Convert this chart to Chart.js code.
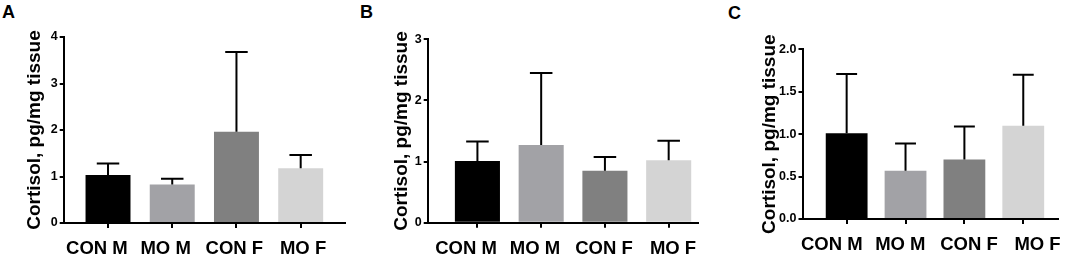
<!DOCTYPE html>
<html>
<head>
<meta charset="utf-8">
<script src="https://cdn.jsdelivr.net/npm/chart.js@4/dist/chart.umd.min.js"></script>
<style>
  html, body { margin: 0; padding: 0; background: #fff; }
  #wrap { position: relative; width: 1065px; height: 257px; overflow: hidden; background: #fff; }
  canvas { position: absolute; top: 0; }
  .lbl { position: absolute; font: bold 18px "Liberation Sans", Arial, sans-serif; color: #000; line-height: 1; }
</style>
</head>
<body>
<div id="wrap">
  <div class="lbl" style="left:2px;top:3px;">A</div>
  <div class="lbl" style="left:360px;top:3px;">B</div>
  <div class="lbl" style="left:728px;top:4px;">C</div>
  <canvas id="cA" width="355" height="257" style="left:0px"></canvas>
  <canvas id="cB" width="355" height="257" style="left:355px"></canvas>
  <canvas id="cC" width="355" height="257" style="left:710px"></canvas>
</div>
<script>
// ---- Data ----
const categories = ['CON M', 'MO M', 'CON F', 'MO F'];
const barColors = ['#000000', '#a2a2a6', '#808080', '#d4d4d4'];

const meanA = [1.03, 0.83, 1.96, 1.18];
const errTopA = [1.28, 0.95, 3.68, 1.46];

const meanB = [1.01, 1.27, 0.85, 1.02];
const errTopB = [1.33, 2.45, 1.075, 1.34];

const meanC = [1.01, 0.57, 0.70, 1.10];
const errTopC = [1.71, 0.89, 1.09, 1.70];

const yTicksA = [0, 1, 2, 3, 4];
const yTicksB = [0, 1, 2, 3];
const yTicksC = [0, 0.5, 1.0, 1.5, 2.0];

const FONT = '"Liberation Sans", Arial, Helvetica, sans-serif';

const errorBarPlugin = {
  id: 'errorBars',
  afterDatasetsDraw(chart, args, opts) {
    const ctx = chart.ctx;
    const meta = chart.getDatasetMeta(0);
    const y = chart.scales.y;
    ctx.save();
    ctx.strokeStyle = '#000';
    ctx.lineWidth = 2;
    ctx.lineCap = 'butt';
    meta.data.forEach((bar, i) => {
      const top = y.getPixelForValue(opts.tops[i]);
      const base = y.getPixelForValue(opts.means[i]);
      const half = bar.width * 0.25;
      ctx.beginPath();
      ctx.moveTo(bar.x, base);
      ctx.lineTo(bar.x, top);
      ctx.moveTo(bar.x - half, top);
      ctx.lineTo(bar.x + half, top);
      ctx.stroke();
    });
    ctx.restore();
  }
};

function makeChart(id, means, tops, yTicks, cfg) {
  const yMax = yTicks[yTicks.length - 1];
  const catTicks = s => { s.ticks = categories.map((_, i) => ({ value: i })); };
  return new Chart(document.getElementById(id), {
    type: 'bar',
    data: {
      datasets: [{
        data: means.map((v, i) => ({ x: i, y: v })),
        backgroundColor: barColors,
        borderWidth: 0,
        categoryPercentage: 1,
        barPercentage: cfg.barPct
      }]
    },
    plugins: [errorBarPlugin],
    options: {
      responsive: false,
      animation: false,
      events: [],
      layout: { padding: { left: 0, top: cfg.top, right: 355 - cfg.right, bottom: 0 } },
      plugins: {
        legend: { display: false },
        tooltip: { enabled: false },
        errorBars: { means: means, tops: tops }
      },
      scales: {
        x: {
          type: 'linear',
          position: 'bottom',
          offset: false,
          min: cfg.xmin,
          max: cfg.xmax,
          afterBuildTicks: catTicks,
          afterFit: s => { s.height = 5; },
          grid: { offset: false, drawOnChartArea: false, drawTicks: true, tickLength: 5, tickColor: '#000', lineWidth: 2 },
          border: { display: true, color: '#000', width: 2 },
          ticks: { display: false }
        },
        xl: {
          type: 'linear',
          axis: 'x',
          position: 'bottom',
          offset: false,
          min: cfg.lmin,
          max: cfg.lmax,
          afterBuildTicks: catTicks,
          afterFit: s => { s.height = 257 - cfg.bottom - 5; },
          grid: { display: false },
          border: { display: false },
          ticks: {
            autoSkip: false, maxRotation: 0, minRotation: 0, padding: 2,
            color: '#000',
            font: { family: FONT, size: 18.5, weight: 'bold' },
            callback: v => categories[v]
          }
        },
        y: {
          min: 0,
          max: yMax,
          afterBuildTicks: s => { s.ticks = yTicks.map(v => ({ value: v })); },
          afterFit: s => { s.width = cfg.left; },
          grid: { drawOnChartArea: false, drawTicks: true, tickLength: 4, tickColor: '#000', lineWidth: 2 },
          border: { display: true, color: '#000', width: 2 },
          ticks: {
            padding: 2,
            color: '#000',
            font: { family: FONT, size: 12.5, weight: 'bold' },
            callback: v => cfg.decimals ? Number(v).toFixed(1) : String(v)
          },
          title: {
            display: true,
            text: 'Cortisol, pg/mg tissue',
            color: '#000',
            font: { family: FONT, size: 19, weight: 'bold' },
            padding: { top: cfg.titleX - 11.4, bottom: 0 }
          }
        }
      }
    }
  });
}

makeChart('cA', meanA, errTopA, yTicksA, { left: 63.7, right: 345, top: 37, bottom: 223, xmin: -0.69, xmax: 3.69, lmin: -0.483, lmax: 3.61, barPct: 0.70, titleX: 35, decimals: false });
makeChart('cB', meanB, errTopB, yTicksB, { left: 72.7, right: 343, top: 39.3, bottom: 222.7, xmin: -0.78, xmax: 3.46, lmin: -0.555, lmax: 3.362, barPct: 0.707, titleX: 47, decimals: false });
makeChart('cC', meanC, errTopC, yTicksC, { left: 92.5, right: 348, top: 49.3, bottom: 219, xmin: -0.75, xmax: 3.59, lmin: -0.426, lmax: 3.298, barPct: 0.71, titleX: 60, decimals: true });
</script>
</body>
</html>
